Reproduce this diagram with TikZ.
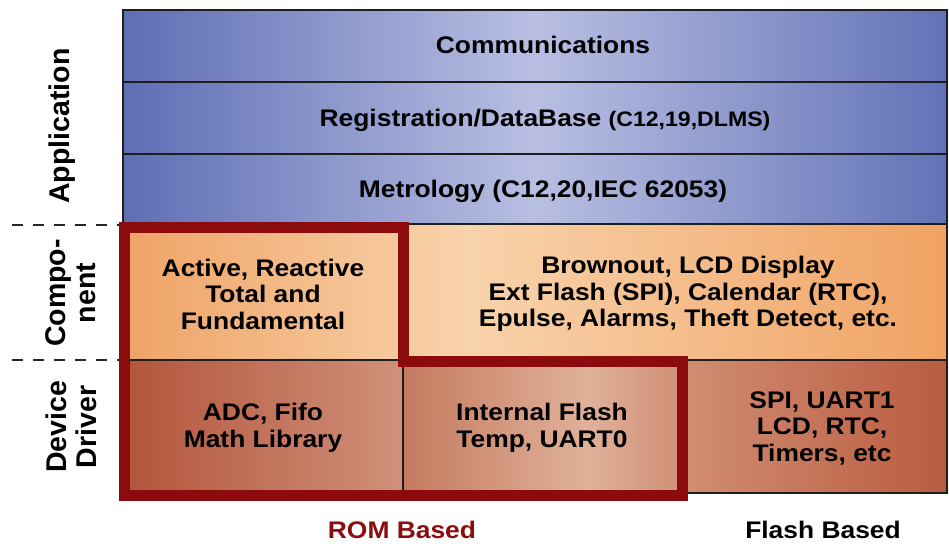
\documentclass[tikz,border=0pt]{standalone}
\usepackage{fontspec}
\setmainfont{Liberation Sans}[FakeStretch=1.1]
\newfontfamily\sidefont{Liberation Sans}
\definecolor{blueL}{RGB}{94,110,180}
\definecolor{blueM}{RGB}{185,191,226}
\definecolor{blueR}{RGB}{98,114,182}
\definecolor{orL}{RGB}{239,163,102}
\definecolor{orM}{RGB}{248,211,172}
\definecolor{orR}{RGB}{240,162,99}
\definecolor{drAL}{RGB}{178,85,59}
\definecolor{drAR}{RGB}{208,144,122}
\definecolor{drBL}{RGB}{196,122,95}
\definecolor{drBM}{RGB}{224,177,153}
\definecolor{drBR}{RGB}{207,143,118}
\definecolor{drCL}{RGB}{209,141,114}
\definecolor{drCR}{RGB}{185,92,64}
\definecolor{romred}{RGB}{140,12,14}
\definecolor{gridline}{RGB}{30,30,30}
\pgfdeclarehorizontalshading{blS}{100bp}{color(0bp)=(blueL); color(25bp)=(blueL); color(50bp)=(blueM); color(75bp)=(blueR); color(100bp)=(blueR)}
\pgfdeclarehorizontalshading{orS}{100bp}{color(0bp)=(orL); color(25bp)=(orL); color(46bp)=(orM); color(75bp)=(orR); color(100bp)=(orR)}
\pgfdeclarehorizontalshading{drBS}{100bp}{color(0bp)=(drBL); color(25bp)=(drBL); color(58bp)=(drBM); color(75bp)=(drBR); color(100bp)=(drBR)}
\begin{document}
\begin{tikzpicture}[x=1pt,y=-1pt,
  celltext/.style={font=\bfseries\fontsize{24}{26.5}\selectfont, align=center, inner sep=0pt, text=black},
  sidelab/.style={font=\sidefont\bfseries\fontsize{28.5}{30}\selectfont, align=center, inner sep=0pt, rotate=90},
  baselab/.style={font=\bfseries\fontsize{24}{26}\selectfont, inner sep=0pt, anchor=base},
  grid/.style={draw=gridline, line width=1.6pt},
  sep/.style={draw=black!85, line width=1.8pt, dash pattern=on 11pt off 10pt},
  romframe/.style={draw=romred, line width=11pt, miter limit=10}
]
\useasboundingbox (0,0) rectangle (949,543);
% coordinates
\coordinate (tl) at (123,10);
\coordinate (br) at (947,493);
% fills
\shade[shading=blS] (123,10) rectangle (947,224);
\shade[shading=orS] (123,224) rectangle (947,360);
\shade[left color=drAL, right color=drAR] (123,360) rectangle (403,493);
\shade[shading=drBS] (403,360) rectangle (682,493);
\shade[left color=drCL, right color=drCR] (682,360) rectangle (947,493);
% grid lines
\draw[grid] (tl) rectangle (br);
\draw[grid] (123,82) -- (947,82);
\draw[grid] (123,154) -- (947,154);
\draw[grid] (123,224) -- (947,224);
\draw[grid] (123,360) -- (947,360);
\draw[grid] (403,360) -- (403,493);
\draw[grid] (682,360) -- (682,493);
% dashed layer separators
\coordinate (d1a) at (12,225); \coordinate (d1b) at (120,225);
\coordinate (d2a) at (12,360); \coordinate (d2b) at (120,360);
\draw[sep] (d1a) -- (d1b);
\draw[sep] (d2a) -- (d2b);
% ROM frame
\draw[romframe] (124,227) -- (403,227) -- (403,361) -- (682,361) -- (682,495) -- (124,495) -- cycle;
% texts
\node[celltext] (comm) at (543,45) {Communications};
\node[celltext, anchor=base] (reg) at (545,126) {Registration/DataBase {\fontsize{21}{22}\selectfont (C12,19,DLMS)}};
\node[celltext, anchor=base] (met) at (543,197) {Metrology (C12,20,IEC 62053)};
\node[celltext] (act) at (263,294) {Active, Reactive\\Total and\\Fundamental};
\node[celltext] (brown) at (688,294) {Brownout, LCD Display\\Ext Flash (SPI), Calendar (RTC),\\Epulse, Alarms, Theft Detect, etc.};
\node[celltext] (adc) at (263,428) {ADC, Fifo\\Math Library};
\node[celltext] (iflash) at (542,428) {Internal Flash\\Temp, UART0};
\node[celltext] (spi) at (822,428) {SPI, UART1\\LCD, RTC,\\Timers, etc};
\node[sidelab] (app) at (62,126) {Application};
\node[sidelab] (comp) at (71,293) {Compo-\\nent};
\node[sidelab] (dev) at (71,427) {Device\\Driver};
\node[baselab, text=romred] (rom) at (402,538) {ROM Based};
\node[baselab, text=black] (flash) at (823,538) {Flash Based};
\end{tikzpicture}
\end{document}
